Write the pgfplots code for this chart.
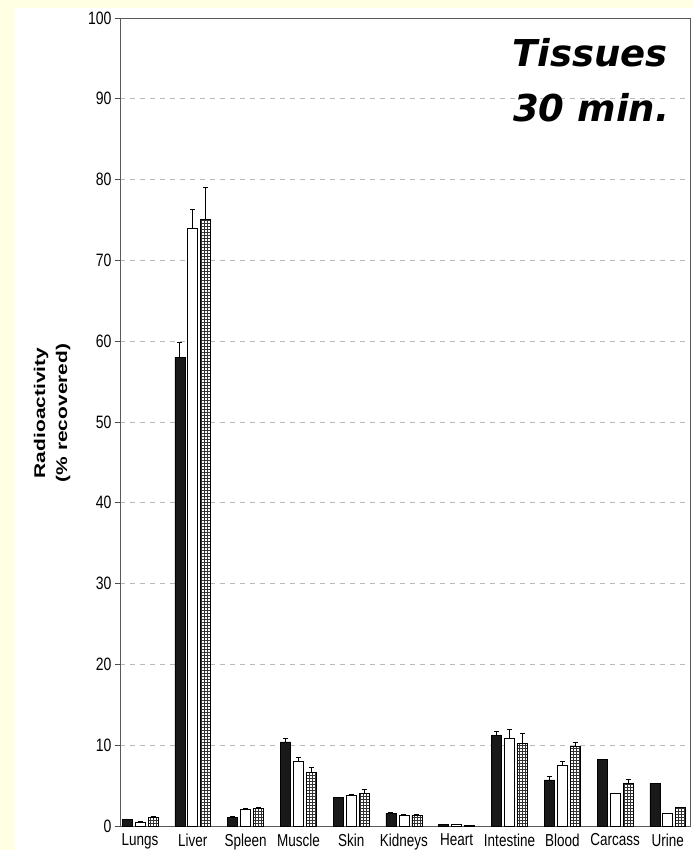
\documentclass[border=0pt]{standalone}
\usepackage{fontspec}
\setmainfont{Liberation Sans}
\newfontfamily\comic{DejaVu Sans}
\usepackage{pgfplots}
\pgfplotsset{compat=1.18}
\usetikzlibrary{patterns}
\definecolor{bgyellow}{HTML}{FFFFE4}
\newcommand{\tall}[1]{\scalebox{1}[1.28]{#1}}

\begin{document}
\begin{tikzpicture}
\path[use as bounding box] (0,0) rectangle (693pt,850pt);
\fill[bgyellow] (0,0) rectangle (693pt,850pt);
\fill[white] (15pt,0) rectangle (693pt,842pt);
\begin{axis}[
    at={(120pt,24pt)}, anchor=south west,
    scale only axis,
    width=570pt, height=808pt,
    ybar=3pt, bar width=10pt,
    xmin=-0.38, xmax=10.42,
    ymin=0, ymax=100,
    xtick={0,...,10},
    xticklabels={\tall{Lungs},\tall{Liver},\tall{Spleen},\tall{Muscle},\tall{Skin},\tall{Kidneys},\tall{Heart},\tall{Intestine},\tall{Blood},\tall{Carcass},\tall{Urine}},
    ytick={0,10,...,100},
    yticklabel={\tall{\pgfmathprintnumber{\tick}}},
    ymajorgrids=true,
    grid style={gray!55, dash pattern=on 5pt off 5pt, line width=0.7pt},
    axis line style={black!65, line width=0.8pt},
    x tick style={draw=none},
    y tick style={black!70, line width=0.7pt},
    tick align=outside, major tick length=5pt,
    ytick pos=left,
    tick label style={font=\fontsize{13.5}{16}\selectfont},
    yticklabel style={font=\fontsize{14}{16}\selectfont},
    xticklabel style={yshift=1pt},
    /pgf/number format/assume math mode=true,
    error bars/y dir=plus, error bars/y explicit,
    error bars/error bar style={black, line width=0.8pt},
    error bars/error mark options={rotate=90, mark size=2.5pt, line width=0.8pt},
]
\addplot[draw=black, fill=black!90, line width=0.6pt] coordinates {
    (0,0.8) +- (0,0.05)
    (1,58.0) +- (0,1.8)
    (2,1.1) +- (0,0.1)
    (3,10.4) +- (0,0.5)
    (4,3.5) +- (0,0.1)
    (5,1.55) +- (0,0.1)
    (6,0.15) +- (0,0)
    (7,11.25) +- (0,0.45)
    (8,5.7) +- (0,0.5)
    (9,8.2) +- (0,0)
    (10,5.3) +- (0,0)
};
\addplot[draw=black, fill=white, line width=0.8pt] coordinates {
    (0,0.5) +- (0,0.05)
    (1,74.0) +- (0,2.3)
    (2,2.1) +- (0,0.1)
    (3,8.0) +- (0,0.5)
    (4,3.75) +- (0,0.2)
    (5,1.3) +- (0,0.1)
    (6,0.2) +- (0,0)
    (7,10.85) +- (0,1.15)
    (8,7.5) +- (0,0.5)
    (9,4.0) +- (0,0)
    (10,1.6) +- (0,0)
};
\addplot[draw=black, fill=white, postaction={pattern=grid, pattern color=black!80}, line width=0.8pt] coordinates {
    (0,1.1) +- (0,0.05)
    (1,75.1) +- (0,3.9)
    (2,2.2) +- (0,0.1)
    (3,6.6) +- (0,0.6)
    (4,4.0) +- (0,0.5)
    (5,1.35) +- (0,0.1)
    (6,0.05) +- (0,0)
    (7,10.2) +- (0,1.2)
    (8,9.8) +- (0,0.6)
    (9,5.3) +- (0,0.5)
    (10,2.3) +- (0,0)
};
\end{axis}
\node[rotate=90, align=center, font=\fontsize{15.5}{22}\selectfont\bfseries] at (52pt,437pt)
    {\scalebox{1.35}[1]{Radioactivity}\\\scalebox{1.35}[1]{(\% recovered)}};
\node[anchor=base west, inner sep=0pt, font=\comic\fontsize{37}{40}\selectfont\bfseries\itshape] at (512pt,783pt) {Tissues};
\node[anchor=base west, inner sep=0pt, font=\comic\fontsize{37}{40}\selectfont\bfseries\itshape] at (513pt,728pt) {30 min.};
\end{tikzpicture}
\end{document}
